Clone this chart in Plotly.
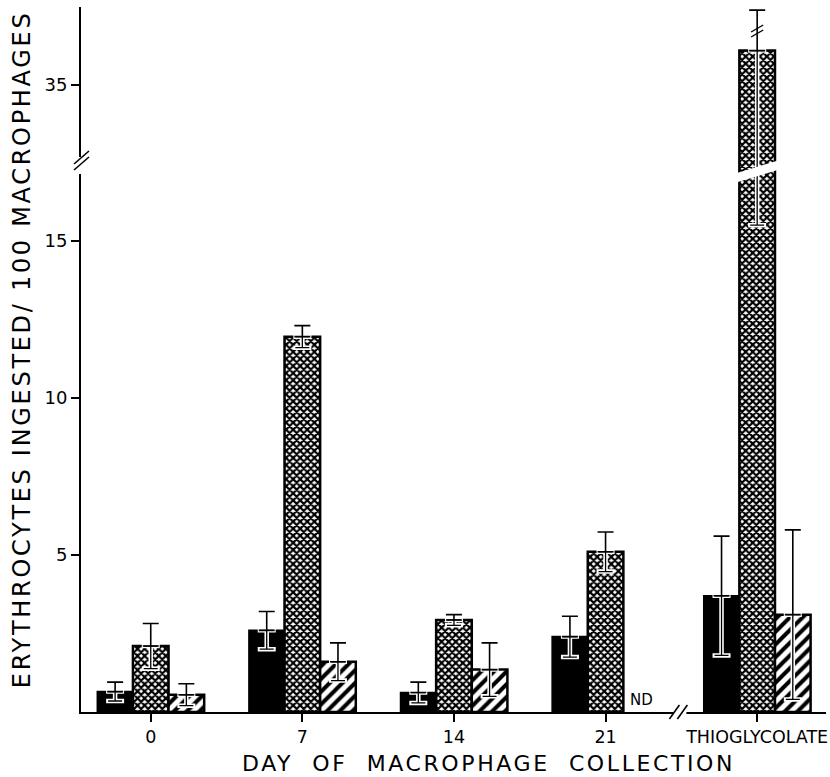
import plotly.graph_objects as go

# ---------------- data ----------------
categories = ["0", "7", "14", "21", "THIOGLYCOLATE"]
black_mean = [0.65, 2.6, 0.62, 2.4, 3.7]
black_err = [0.3, 0.6, 0.33, 0.65, 1.9]
cross_mean = [2.1, 11.95, 2.93, 5.1, 36.1]
cross_err = [0.72, 0.35, 0.17, 0.63, 20.6]
diag_mean = [0.55, 1.6, 1.35, None, 3.1]
diag_err = [0.35, 0.6, 0.85, None, 2.7]
lower_ticks = [5, 10, 15]
upper_ticks = [35]
lower_range = [0, 17.32]
upper_range = [32.36, 37.49]
nd_label = "ND"
x_title = "DAY\u00a0 OF\u00a0 MACROPHAGE\u00a0 COLLECTION"
y_title = "ERYTHROCYTES INGESTED/ 100 MACROPHAGES"

# ---------------- layout geometry ----------------
W, H = 830, 777
L, R, T, B = 81, 2, 7, 65
PW, PH = W - L - R, H - T - B
BASE = H - B
BREAK_PX = 168
bf = (BASE - BREAK_PX) / PH
bw = 0.235
offsets = [-bw, 0.0, bw]
FONT = "DejaVu Sans"


def xp(px):
    return (px - L) / PW


def yp(py):
    return (BASE - py) / PH


series = [
    dict(mean=black_mean, err=black_err, off=offsets[0],
         marker=dict(color="black", line=dict(color="black", width=1.5))),
    dict(mean=cross_mean, err=cross_err, off=offsets[1],
         marker=dict(color="white", line=dict(color="black", width=2.5),
                     pattern=dict(shape="x", fgcolor="black", bgcolor="white",
                                  size=5, solidity=0.68, fillmode="replace"))),
    dict(mean=diag_mean, err=diag_err, off=offsets[2],
         marker=dict(color="white", line=dict(color="black", width=2.5),
                     pattern=dict(shape="/", fgcolor="black", bgcolor="white",
                                  size=9, solidity=0.45, fillmode="replace"))),
]

fig = go.Figure()
ncat = len(categories)

# bars in the lower segment
for s in series:
    xs = [k + s["off"] for k in range(ncat)]
    fig.add_trace(go.Bar(x=xs, y=s["mean"], width=bw, marker=s["marker"],
                         yaxis="y", showlegend=False, hoverinfo="skip"))

# bars reaching the upper segment
for s in series:
    idx = [k for k in range(ncat) if s["mean"][k] is not None and s["mean"][k] > lower_range[1]]
    if idx:
        fig.add_trace(go.Bar(x=[k + s["off"] for k in idx], y=[s["mean"][k] for k in idx],
                             width=bw, marker=s["marker"], yaxis="y2",
                             showlegend=False, hoverinfo="skip"))


def err_traces(xs, ys, plus, minus, axis):
    inv = dict(size=1, color="rgba(0,0,0,0)")
    zeros = [0] * len(xs)
    fig.add_trace(go.Scatter(x=xs, y=ys, mode="markers", marker=inv, yaxis=axis,
                             showlegend=False, hoverinfo="skip",
                             error_y=dict(type="data", symmetric=False, array=zeros,
                                          arrayminus=minus, color="white",
                                          thickness=4.5, width=9)))
    fig.add_trace(go.Scatter(x=xs, y=ys, mode="markers", marker=inv, yaxis=axis,
                             showlegend=False, hoverinfo="skip",
                             error_y=dict(type="data", symmetric=False, array=zeros,
                                          arrayminus=minus, color="black",
                                          thickness=1.3, width=7)))
    fig.add_trace(go.Scatter(x=xs, y=ys, mode="markers", marker=inv, yaxis=axis,
                             showlegend=False, hoverinfo="skip",
                             error_y=dict(type="data", symmetric=False, array=plus,
                                          arrayminus=zeros, color="black",
                                          thickness=1.6, width=8)))


for s in series:
    idx = [k for k in range(ncat) if s["mean"][k] is not None]
    xs = [k + s["off"] for k in idx]
    ys = [s["mean"][k] for k in idx]
    er = [s["err"][k] for k in idx]
    err_traces(xs, ys, er, er, "y")
    up = [k for k in idx if s["mean"][k] > lower_range[1]]
    if up:
        ys2 = [s["mean"][k] for k in up]
        plus2 = [min(s["err"][k], upper_range[1] - 0.1 - s["mean"][k]) for k in up]
        err_traces([k + s["off"] for k in up], ys2, plus2, [s["err"][k] for k in up], "y2")

axis_common = dict(showline=True, linecolor="black", linewidth=2, ticks="outside",
                   ticklen=8, tickwidth=1.5, tickcolor="black", showgrid=False,
                   zeroline=False, tickfont=dict(family=FONT, size=18, color="black"))

fig.update_layout(
    width=W, height=H, margin=dict(l=L, r=R, t=T, b=B),
    paper_bgcolor="white", plot_bgcolor="white", barmode="overlay",
    showlegend=False,
    xaxis=dict(range=[-0.46, 4.454], tickvals=list(range(ncat)), ticktext=categories,
               **{**axis_common, "tickfont": dict(family=FONT, size=17.5, color="black")}),
    yaxis=dict(domain=[0, bf], range=lower_range, tickvals=lower_ticks, **axis_common),
    yaxis2=dict(domain=[bf, 1], range=upper_range, tickvals=upper_ticks, anchor="x",
                **axis_common),
)

ann = [
    dict(text='<span style="letter-spacing:2.7px">' + y_title + '</span>',
         x=xp(22), y=yp(349), xref="paper", yref="paper", textangle=-90,
         showarrow=False, xanchor="center", yanchor="middle",
         font=dict(family=FONT, size=24, color="black")),
    dict(text='<span style="letter-spacing:2.6px">' + x_title + '</span>',
         x=xp(490), y=yp(763), xref="paper", yref="paper",
         showarrow=False, xanchor="center", yanchor="middle",
         font=dict(family=FONT, size=22, color="black")),
]
# ND marker for missing value
for k in range(ncat):
    if diag_mean[k] is None:
        ann.append(dict(text=nd_label, x=k + offsets[2], y=0, xref="x", yref="y",
                        yanchor="bottom", showarrow=False, yshift=1,
                        font=dict(family=FONT, size=15, color="black")))
fig.update_layout(annotations=ann)

shapes = []
# y-axis break
shapes.append(dict(type="line", xref="paper", yref="paper", x0=0, x1=0,
                   y0=yp(157), y1=yp(174), line=dict(color="white", width=5), layer="above"))
for dy in (0, 6):
    shapes.append(dict(type="line", xref="paper", yref="paper",
                       x0=xp(74), y0=yp(170 - dy), x1=xp(89), y1=yp(157 - dy),
                       line=dict(color="black", width=1.6), layer="above"))
# x-axis break
shapes.append(dict(type="line", xref="paper", yref="paper", x0=xp(675), x1=xp(688),
                   y0=0, y1=0, line=dict(color="white", width=5), layer="above"))
for dx in (0, 8):
    shapes.append(dict(type="line", xref="paper", yref="paper",
                       x0=xp(671 + dx), y0=yp(719), x1=xp(681 + dx), y1=yp(705),
                       line=dict(color="black", width=1.6), layer="above"))
# break through tall bar(s)
for s in series:
    for k in range(ncat):
        if s["mean"][k] is not None and s["mean"][k] > lower_range[1]:
            xc = k + s["off"]
            shapes.append(dict(type="line", xref="x", yref="paper",
                               x0=xc - bw * 0.6, y0=yp(178), x1=xc + bw * 0.6, y1=yp(165),
                               line=dict(color="white", width=9), layer="above"))
            for dy in (0, 5):
                shapes.append(dict(type="line", xref="x", yref="paper",
                                   x0=xc - 0.04, y0=yp(37 - dy), x1=xc + 0.04, y1=yp(30 - dy),
                                   line=dict(color="black", width=1.4), layer="above"))
fig.update_layout(shapes=shapes)

fig.write_html("out.html", config={"displayModeBar": False},
               post_script="document.body.style.margin='0px';document.body.style.overflow='hidden';")
